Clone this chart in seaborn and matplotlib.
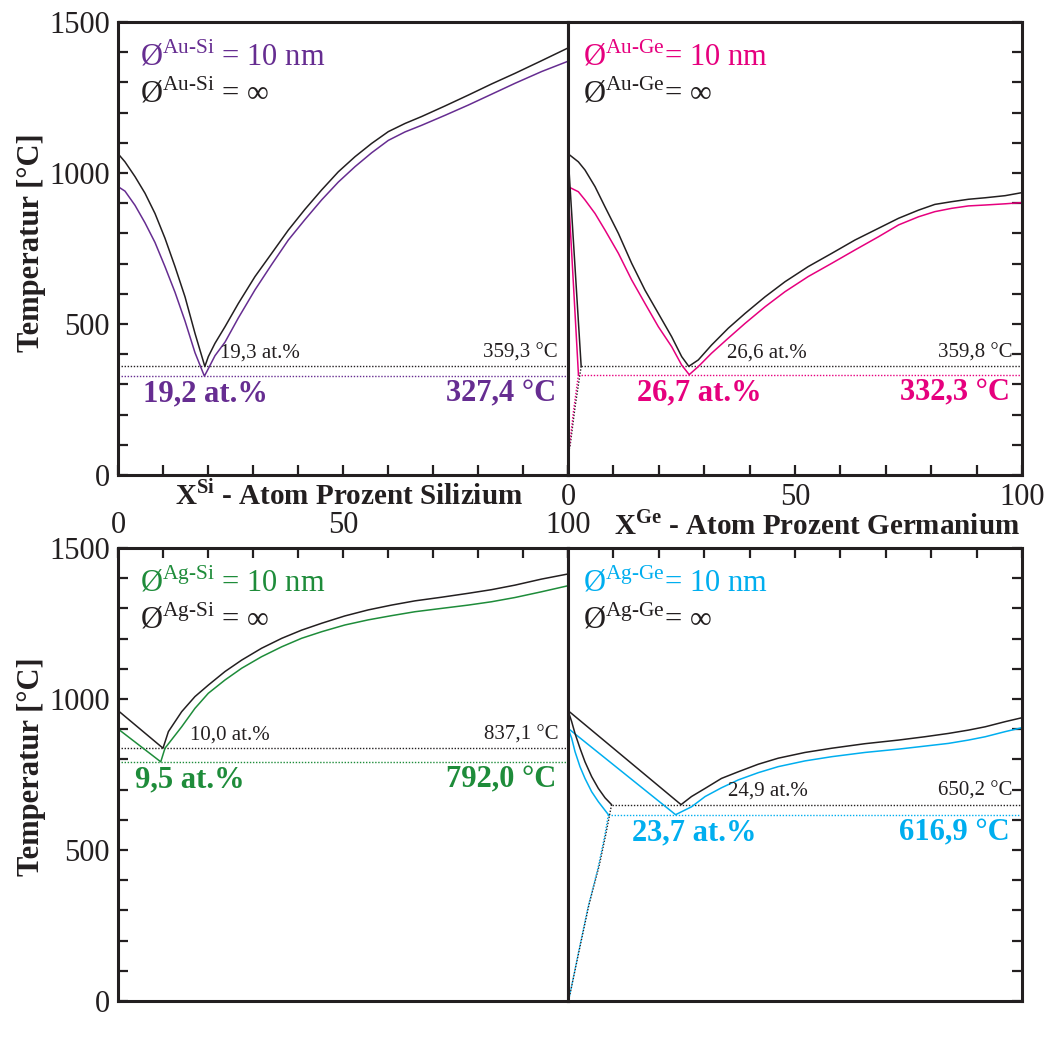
import matplotlib
matplotlib.use("Agg")
import matplotlib.pyplot as plt
import seaborn as sns

sns.set_style("ticks")
plt.rcParams["font.family"] = ["Liberation Serif", "DejaVu Serif"]
plt.rcParams["mathtext.fontset"] = "custom"
plt.rcParams["mathtext.rm"] = "Liberation Serif"
plt.rcParams["mathtext.bf"] = "Liberation Serif:bold"

# ---- data (at.% / °C) ----
# Au-Si
ausi_inf_x = [0, 1.55, 3.78, 6.0, 8.22, 10.44, 12.67, 14.89, 17.11, 19.3, 20.07, 21.55, 23.78, 26.74,
              30.44, 34.15, 37.85, 41.56, 45.26, 48.96, 52.67, 56.37, 60.07, 63.78, 67.48, 72.67,
              77.85, 83.04, 88.22, 94.15, 100]
ausi_inf_t = [1064, 1037, 988, 933, 866, 784, 690, 590, 469, 359.3, 392, 436, 491, 568,
              657, 734, 811, 880, 944, 1004, 1054, 1098, 1137, 1164, 1187, 1222,
              1258, 1295, 1330, 1372, 1414]
ausi_10_x = [0, 1.55, 3.78, 6.0, 8.22, 10.44, 12.67, 14.89, 17.11, 19.2, 20.07, 21.55, 23.78, 26.74,
             30.44, 34.15, 37.85, 41.56, 45.26, 48.96, 52.67, 56.37, 60.07, 63.78, 67.48, 72.67,
             77.85, 83.04, 88.22, 94.15, 100]
ausi_10_t = [955, 940, 893, 835, 770, 690, 605, 510, 405, 327.4, 352, 395, 440, 520,
             613, 697, 778, 846, 911, 970, 1021, 1067, 1108, 1136, 1158, 1191,
             1225, 1261, 1297, 1336, 1370]

# Au-Ge
auge_inf_x = [0, 2.28, 3.74, 5.95, 8.15, 11.1, 14.02, 16.96, 19.9, 22.83, 25.04, 26.6, 28.7, 31.6,
              35.3, 39.0, 43.4, 47.8, 52.9, 58.1, 63.2, 68.4, 72.8, 77.2, 80.8, 84.5, 88.2,
              91.9, 96.3, 100]
auge_inf_t = [1064, 1037, 1010, 955, 888, 800, 701, 612, 535, 458, 392, 359.8, 381, 430,
              486, 535, 590, 640, 690, 734, 778, 817, 850, 877, 896, 905, 913,
              918, 925, 935]
auge_10_x = [0, 2.28, 3.74, 5.95, 8.15, 11.1, 14.02, 16.96, 19.9, 22.83, 25.04, 26.7, 28.7, 31.6,
             35.3, 39.0, 43.4, 47.8, 52.9, 58.1, 63.2, 68.4, 72.8, 77.2, 80.8, 84.5, 88.2,
             91.9, 96.3, 100]
auge_10_t = [955, 938, 911, 866, 811, 734, 646, 568, 491, 425, 364, 332.3, 359, 403,
             453, 502, 557, 607, 657, 701, 745, 789, 828, 855, 872, 883, 891,
             894, 898, 902]
auge_inf_sol_x = [0, 2.9]
auge_inf_sol_t = [1064, 359.8]
auge_inf_solv_x = [2.9, 1.6, 0.4, 0]
auge_inf_solv_t = [359.8, 230, 90, 80]
auge_10_sol_x = [0, 2.3]
auge_10_sol_t = [955, 332.3]
auge_10_solv_x = [2.3, 1.2, 0.3, 0]
auge_10_solv_t = [332.3, 210, 90, 80]

# Ag-Si
agsi_inf_x = [0, 10.0, 11.2, 14.15, 17.1, 20.07, 23.78, 27.5, 31.9, 36.4, 40.8, 45.3, 50.4,
              55.6, 60.8, 66.0, 71.9, 77.85, 83.0, 88.2, 94.1, 100]
agsi_inf_t = [961.8, 837.1, 892, 958, 1008, 1046, 1091, 1129, 1168, 1201, 1228, 1251, 1275,
              1295, 1311, 1325, 1337, 1350, 1362, 1377, 1397, 1414]
agsi_10_x = [0, 9.5, 10.44, 14.15, 17.1, 20.07, 23.78, 27.5, 31.9, 36.4, 40.8, 45.3, 50.4,
             55.6, 60.8, 66.0, 71.9, 77.85, 83.0, 88.2, 94.1, 100]
agsi_10_t = [901, 792.0, 837, 908, 969, 1019, 1063, 1102, 1140, 1173, 1201, 1223, 1245,
             1262, 1276, 1289, 1300, 1311, 1322, 1336, 1355, 1375]

# Ag-Ge
agge_inf_x = [0, 24.9, 27.2, 30.2, 33.8, 37.5, 41.9, 46.3, 52.2, 58.1, 65.4, 72.8, 78.6,
              83.8, 88.2, 91.9, 96.3, 100]
agge_inf_t = [961.8, 650.2, 677, 704, 737, 759, 784, 804, 823, 837, 852, 864, 875,
              886, 897, 908, 925, 938]
agge_10_x = [0, 23.7, 27.2, 30.2, 33.8, 37.5, 41.9, 46.3, 52.2, 58.1, 65.4, 72.8, 78.6,
             83.8, 88.2, 91.9, 96.3, 100]
agge_10_t = [903, 616.9, 643, 677, 706, 732, 756, 776, 795, 809, 823, 834, 844,
             853, 864, 875, 892, 905]
agge_inf_sol_x = [0, 0.81, 1.54, 2.64, 3.74, 5.21, 6.68, 8.15, 9.6]
agge_inf_sol_t = [961.8, 925, 886, 837, 792, 743, 704, 673, 650.2]
agge_10_sol_x = [0, 0.81, 1.54, 2.64, 3.74, 5.21, 6.68, 8.9]
agge_10_sol_t = [903, 870, 826, 776, 737, 693, 660, 616.9]
agge_inf_solv_x = [9.6, 8.3, 6.9, 4.6, 2.4, 0.4, 0]
agge_inf_solv_t = [650.2, 550, 450, 318, 163, 20, 0]
agge_10_solv_x = [8.9, 8.0, 6.6, 4.4, 2.3, 0.4, 0]
agge_10_solv_t = [616.9, 540, 440, 310, 160, 20, 0]

BLACK = "#231f20"
PURPLE = "#662d91"
PINK = "#e6007e"
GREEN = "#1e8c3a"
CYAN = "#00aeef"

fig = plt.figure(figsize=(10.46, 10.46), dpi=100)
W = 1046.0


def box(x0, y0, x1, y1):
    return [x0 / W, 1 - y1 / W, (x1 - x0) / W, (y1 - y0) / W]


ax_tl = fig.add_axes(box(118, 22, 568, 475))
ax_tr = fig.add_axes(box(568, 22, 1022, 475))
ax_bl = fig.add_axes(box(118, 548, 568, 1001))
ax_br = fig.add_axes(box(568, 548, 1022, 1001))

xt = list(range(0, 101, 10))
xl = ["0" if v == 0 else "50" if v == 50 else "100" if v == 100 else "" for v in xt]
yt = list(range(0, 1501, 100))
yl = [str(v) if v % 500 == 0 else "" for v in yt]

for ax in [ax_tl, ax_tr, ax_bl, ax_br]:
    ax.set_xticks(xt)
    ax.set_xticklabels(xl)
    ax.set_yticks(yt)
    ax.set_yticklabels(yl)
    ax.tick_params(direction="in", length=7.5, width=1.6, color=BLACK,
                   labelsize=22, pad=6, labelcolor=BLACK)
    for s in ax.spines.values():
        s.set_visible(True)
        s.set_linewidth(2.2)
        s.set_color(BLACK)

ax_tl.tick_params(left=True, right=False, top=False, bottom=True,
                  labelleft=True, labelbottom=False, labeltop=False)
ax_tr.tick_params(left=False, right=True, top=False, bottom=True,
                  labelleft=False, labelright=False, labelbottom=True)
ax_bl.tick_params(left=True, right=False, top=True, bottom=False,
                  labelleft=True, labelbottom=False, labeltop=True)
ax_br.tick_params(left=False, right=True, top=True, bottom=False,
                  labelleft=False, labelright=False, labelbottom=False, labeltop=False)


def curve(ax, x, y, c, ls="-", lw=1.1):
    sns.lineplot(x=x, y=y, ax=ax, color=c, sort=False, estimator=None,
                 linewidth=lw, linestyle=ls)


DOT = (0, (1, 1.2))

panels = [
    (ax_tl, "Au-Si", " = ", PURPLE, 0.049,
     ausi_inf_x, ausi_inf_t, ausi_10_x, ausi_10_t,
     (19.3, 359.3), (19.2, 327.4), 0, 0, 22.7, 5.6),
    (ax_tr, "Au-Ge", "= ", PINK, 0.033,
     auge_inf_x, auge_inf_t, auge_10_x, auge_10_t,
     (26.6, 359.8), (26.7, 332.3), 2.9, 2.3, 35.0, 15.2),
    (ax_bl, "Ag-Si", " = ", GREEN, 0.049,
     agsi_inf_x, agsi_inf_t, agsi_10_x, agsi_10_t,
     (10.0, 837.1), (9.5, 792.0), 0, 0, 16.0, 3.8),
    (ax_br, "Ag-Ge", "= ", CYAN, 0.033,
     agge_inf_x, agge_inf_t, agge_10_x, agge_10_t,
     (24.9, 650.2), (23.7, 616.9), 9.6, 8.9, 35.2, 14.1),
]

for (ax, sysname, eq, col, lx, ix, it, nx, ny, e_inf, e_10, d0_inf, d0_10,
     lab_inf_x, lab_10_x) in panels:
    ax.hlines(e_inf[1], d0_inf, 100, colors=BLACK, linestyles=[DOT], linewidth=1.0)
    ax.hlines(e_10[1], d0_10, 100, colors=col, linestyles=[DOT], linewidth=1.0)
    curve(ax, ix, it, BLACK)
    curve(ax, nx, ny, col)

    sup = sysname.replace("-", "\u2010")
    ax.text(lx, 0.905, "Ø$^{\\mathrm{" + sup + "}}$" + eq + "10 nm", transform=ax.transAxes,
            color=col, fontsize=22, va="baseline", ha="left")
    ax.text(lx, 0.823, "Ø$^{\\mathrm{" + sup + "}}$" + eq + "∞", transform=ax.transAxes,
            color=BLACK, fontsize=22, va="baseline", ha="left")

    small_inf = f"{e_inf[0]:.1f}".replace(".", ",") + " at.%"
    small_t = f"{e_inf[1]:.1f}".replace(".", ",") + " °C"
    ax.text(lab_inf_x, e_inf[1] + 13, small_inf, color=BLACK, fontsize=15, va="bottom", ha="left")
    ax.text(97.8, e_inf[1] + 13, small_t, color=BLACK, fontsize=15, va="bottom", ha="right")

    big_x = f"{e_10[0]:.1f}".replace(".", ",") + " at.%"
    big_t = f"{e_10[1]:.1f}".replace(".", ",") + " °C"
    ax.text(lab_10_x, e_10[1] - 12, big_x, color=col, fontsize=22, fontweight="bold",
            va="top", ha="left")
    ax.text(97.3, e_10[1] - 12, big_t, color=col, fontsize=22, fontweight="bold",
            va="top", ha="right")

# solidus / solvus lines on the Ge side
curve(ax_tr, auge_inf_sol_x, auge_inf_sol_t, BLACK)
curve(ax_tr, auge_10_sol_x, auge_10_sol_t, PINK)
curve(ax_tr, auge_inf_solv_x, auge_inf_solv_t, BLACK, ls=DOT, lw=1.0)
curve(ax_tr, auge_10_solv_x, auge_10_solv_t, PINK, ls=DOT, lw=1.0)
curve(ax_br, agge_inf_sol_x, agge_inf_sol_t, BLACK)
curve(ax_br, agge_10_sol_x, agge_10_sol_t, CYAN)
curve(ax_br, agge_inf_solv_x, agge_inf_solv_t, BLACK, ls=DOT, lw=1.0)
curve(ax_br, agge_10_solv_x, agge_10_solv_t, CYAN, ls=DOT, lw=1.0)

for ax in [ax_tl, ax_tr, ax_bl, ax_br]:
    ax.set_xlim(0, 100)
    ax.set_ylim(0, 1500)
    ax.set_xlabel("")
    ax.set_ylabel("")

# axis titles
fig.text(349 / W, 1 - 495 / W, "X$^{\\mathbf{Si}}$ - Atom Prozent Silizium",
         fontsize=21, fontweight="bold", ha="center", va="center", color=BLACK)
fig.text(817 / W, 1 - 525 / W, "X$^{\\mathbf{Ge}}$ - Atom Prozent Germanium",
         fontsize=21, fontweight="bold", ha="center", va="center", color=BLACK)
fig.text(32 / W, 1 - 243 / W, "Temperatur [°C]", rotation=90, fontsize=22,
         fontweight="bold", ha="center", va="center", color=BLACK)
fig.text(32 / W, 1 - 767 / W, "Temperatur [°C]", rotation=90, fontsize=22,
         fontweight="bold", ha="center", va="center", color=BLACK)

fig.savefig("out.png", dpi=100, facecolor="white")
